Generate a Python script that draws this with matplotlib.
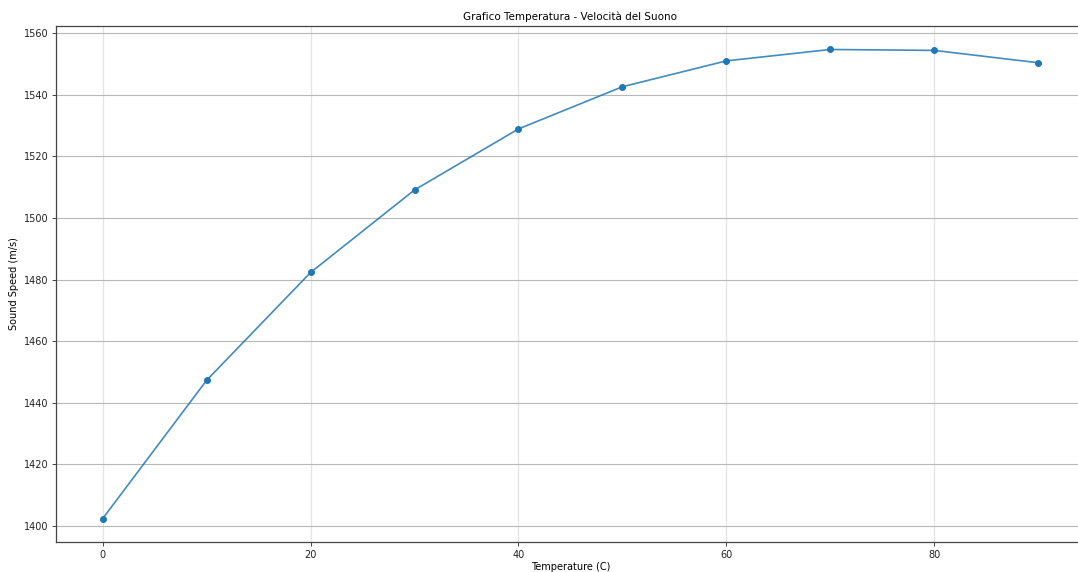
import numpy as np
import matplotlib
matplotlib.use("Agg")
import matplotlib.pyplot as plt

# speed of sound in water vs temperature
temperature = [0, 10, 20, 30, 40, 50, 60, 70, 80, 90]
sound_speed = [1402.4, 1447.3, 1482.3, 1509.1, 1528.9,
               1542.6, 1551.0, 1554.7, 1554.4, 1550.4]

plt.rcParams['font.size'] = 7

fig = plt.figure(figsize=(10.78, 5.72), dpi=100)
ax = fig.add_axes([0.0519, 0.0524, 0.9545, 0.9021])

ax.plot(temperature, sound_speed, marker='o', color='#1f77b4',
        linewidth=1.2, markersize=4.8, alpha=0.85, markeredgewidth=0)
ax.plot(temperature, sound_speed, linestyle='none', marker='o',
        color='#1f77b4', markersize=4.8, markeredgewidth=0)

ax.set_xticks([0, 20, 40, 60, 80])
ax.set_yticks(np.arange(1400, 1561, 20))
ax.grid(axis='x', color='#e3e3e3', linewidth=0.9)
ax.grid(axis='y', color='#b8b8b8', linewidth=0.8)
ax.set_axisbelow(True)

for s in ax.spines.values():
    s.set_color('#444444')
    s.set_linewidth(0.9)
ax.spines['right'].set_visible(False)
ax.tick_params(length=3, width=0.7, color='#444444', labelcolor='#222222', pad=2.5)

ax.set_title('Grafico Temperatura - Velocità del Suono', fontsize=7.5, pad=4)
ax.set_xlabel('Temperature (C)', fontsize=7, labelpad=2)
ax.set_ylabel('Sound Speed (m/s)', fontsize=7, labelpad=3)

fig.savefig('out.png', dpi=100)
